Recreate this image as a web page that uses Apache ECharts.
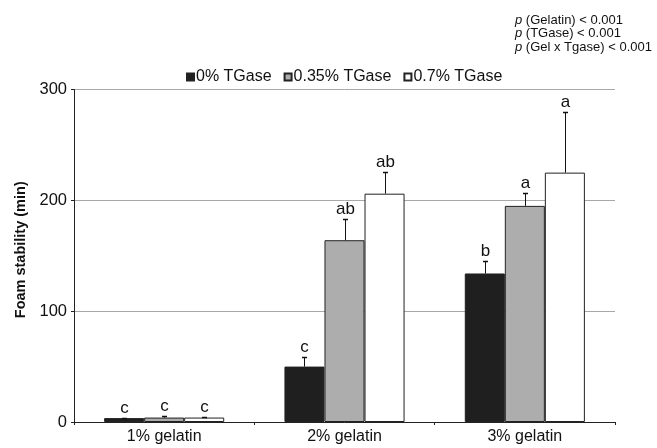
<!DOCTYPE html>
<html>
<head>
<meta charset="utf-8">
<script src="https://cdn.jsdelivr.net/npm/echarts@6/dist/echarts.min.js"></script>
<style>html,body{margin:0;padding:0;background:#fff}#c{width:657px;height:448px}</style>
</head>
<body>
<div id="c"></div>
<script>
const categories = ['1% gelatin', '2% gelatin', '3% gelatin'];
const seriesNames = ['0% TGase', '0.35% TGase', '0.7% TGase'];
const tgase0 = [3.5, 50, 134];
const tgase035 = [4, 164, 195];
const tgase07 = [4, 206, 225];
const err0 = [0.4, 9, 11];
const err035 = [1.5, 19, 12];
const err07 = [0.4, 19.5, 55];
const letters0 = ['c', 'c', 'b'];
const letters035 = ['c', 'ab', 'a'];
const letters07 = ['c', 'ab', 'a'];
const yTicks = [0, 100, 200, 300];
const pTexts = ['(Gelatin) < 0.001', '(TGase) < 0.001', '(Gel x Tgase) < 0.001'];

const values = [tgase0, tgase035, tgase07];
const errors = [err0, err035, err07];
const letters = [letters0, letters035, letters07];
const colors = ['#1f1f1f', '#adadad', '#ffffff'];
const FONT = '"Liberation Sans", Arial, sans-serif';
const catGap = 0.334;

const errData = [];
for (let k = 0; k < 3; k++) for (let c = 0; c < 3; c++) errData.push([c, values[k][c], errors[k][c], k]);

const chart = echarts.init(document.getElementById('c'), null, {renderer: 'canvas'});
const barSeries = values.map((v, k) => ({
  name: seriesNames[k], type: 'bar', data: v,
  barGap: '0%', barCategoryGap: (catGap * 100) + '%',
  itemStyle: {color: colors[k], borderColor: '#222', borderWidth: 1},
  emphasis: {disabled: true}, animation: false
}));

chart.setOption({
  animation: false,
  textStyle: {fontFamily: FONT},
  grid: {left: 74, right: 42, top: 89.5, bottom: 26},
  legend: {
    data: seriesNames, left: 181, top: 64, icon: 'rect', itemWidth: 7, itemHeight: 7, itemGap: 12,
    textStyle: {fontSize: 16, color: '#111', fontFamily: FONT, padding: [0, 0, 0, -3]},
    selectedMode: false
  },
  xAxis: {
    type: 'category', data: categories,
    axisLine: {lineStyle: {color: '#222', width: 1}},
    axisTick: {show: true, length: 3, lineStyle: {color: '#222'}},
    axisLabel: {fontSize: 16, color: '#111', margin: 7, fontFamily: FONT}
  },
  yAxis: {
    type: 'value', min: yTicks[0], max: yTicks[yTicks.length - 1], interval: 100,
    name: 'Foam stability (min)', nameLocation: 'middle', nameGap: 46,
    nameTextStyle: {fontSize: 14.5, fontWeight: 'bold', color: '#111', fontFamily: FONT, padding: [0, 0, 0, 12]},
    axisLine: {show: true, lineStyle: {color: '#222', width: 1}},
    axisTick: {show: true, length: 3, lineStyle: {color: '#222'}},
    axisLabel: {fontSize: 16.5, color: '#111', margin: 7, fontFamily: FONT},
    splitLine: {show: true, lineStyle: {color: '#a8a8a8', width: 1}}
  },
  graphic: pTexts.map((t, i) => ({
    type: 'text', left: 515, top: 14 + i * 13.3,
    style: {
      text: '{i|p} ' + t, fill: '#111', font: '13px ' + FONT,
      rich: {i: {fontStyle: 'italic', fontSize: 13, fontFamily: FONT, fill: '#111', color: '#111'}}
    }
  })),
  series: barSeries.concat([{
    type: 'custom', data: errData, z: 10, silent: true, animation: false,
    encode: {x: 0, y: 1},
    renderItem(params, api) {
      const c = api.value(0), v = api.value(1), e = api.value(2), k = api.value(3);
      const band = api.size([1, 0])[0];
      const barW = band * (1 - catGap) / 3;
      const center = api.coord([c, 0])[0];
      const x = Math.round(center + (k - 1) * barW) + 0.5;
      const yTop = api.coord([c, v])[1];
      const yErr = Math.round(api.coord([c, v + e])[1]) + 0.5;
      return {
        type: 'group', children: [
          {type: 'line', shape: {x1: x, y1: yTop, x2: x, y2: yErr}, style: {stroke: '#111', lineWidth: 1}},
          {type: 'line', shape: {x1: x - 2.5, y1: yErr, x2: x + 2.5, y2: yErr}, style: {stroke: '#111', lineWidth: 1.5}},
          {type: 'text', x: x, y: yErr - 2, style: {
            text: letters[k][c], font: '17px ' + FONT, fill: '#111',
            align: 'center', verticalAlign: 'bottom', textAlign: 'center', textVerticalAlign: 'bottom'
          }}
        ]
      };
    }
  }])
});
</script>
</body>
</html>
